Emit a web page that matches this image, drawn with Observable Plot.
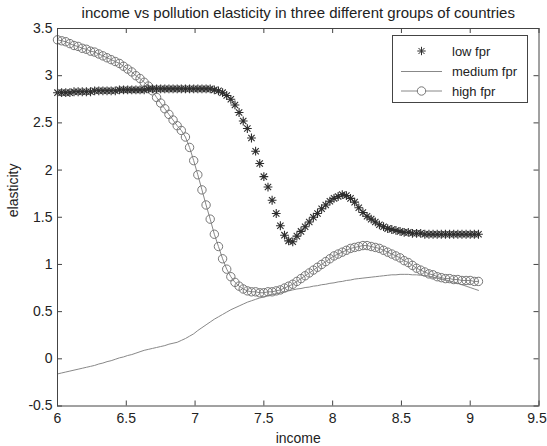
<!DOCTYPE html>
<html>
<head>
<meta charset="utf-8">
<script src="https://cdn.jsdelivr.net/npm/d3@7"></script>
<script src="https://cdn.jsdelivr.net/npm/@observablehq/plot@0.6"></script>
<style>
  html, body { margin: 0; padding: 0; background: #fff; }
  #chart { width: 547px; height: 446px; }
</style>
</head>
<body>
<div id="chart"></div>
<script>
// Income grid (log scale) shared by the three country groups
const income = [
  6.00, 6.03, 6.06, 6.09, 6.12, 6.15, 6.18, 6.21, 6.24, 6.27,
  6.30, 6.33, 6.36, 6.39, 6.42, 6.45, 6.48, 6.51, 6.54, 6.57,
  6.60, 6.63, 6.66, 6.69, 6.72, 6.75, 6.78, 6.81, 6.84, 6.87,
  6.90, 6.93, 6.96, 6.99, 7.02, 7.05, 7.08, 7.11, 7.14, 7.17,
  7.20, 7.23, 7.26, 7.29, 7.32, 7.35, 7.38, 7.41, 7.44, 7.47,
  7.50, 7.53, 7.56, 7.59, 7.62, 7.65, 7.68, 7.71, 7.74, 7.77,
  7.80, 7.83, 7.86, 7.89, 7.92, 7.95, 7.98, 8.01, 8.04, 8.07,
  8.10, 8.13, 8.16, 8.19, 8.22, 8.25, 8.28, 8.31, 8.34, 8.37,
  8.40, 8.43, 8.46, 8.49, 8.52, 8.55, 8.58, 8.61, 8.64, 8.67,
  8.70, 8.73, 8.76, 8.79, 8.82, 8.85, 8.88, 8.91, 8.94, 8.97,
  9.00, 9.03, 9.06
];

// Elasticity for low fpr countries
const lowFpr = [
  2.82, 2.82, 2.82, 2.82, 2.83, 2.83, 2.83, 2.83, 2.83, 2.84,
  2.84, 2.84, 2.84, 2.84, 2.84, 2.85, 2.85, 2.85, 2.85, 2.85,
  2.85, 2.85, 2.86, 2.86, 2.86, 2.86, 2.86, 2.86, 2.86, 2.86,
  2.86, 2.86, 2.86, 2.86, 2.86, 2.86, 2.86, 2.86, 2.85, 2.84,
  2.82, 2.79, 2.75, 2.69, 2.61, 2.52, 2.44, 2.34, 2.20, 2.07,
  1.93, 1.82, 1.68, 1.54, 1.41, 1.31, 1.25, 1.24, 1.30, 1.35,
  1.40, 1.45, 1.50, 1.54, 1.59, 1.63, 1.67, 1.70, 1.72, 1.74,
  1.73, 1.70, 1.66, 1.60, 1.55, 1.51, 1.48, 1.45, 1.42, 1.40,
  1.38, 1.37, 1.36, 1.35, 1.34, 1.34, 1.33, 1.33, 1.33, 1.32,
  1.32, 1.32, 1.32, 1.32, 1.32, 1.32, 1.32, 1.32, 1.32, 1.32,
  1.32, 1.32, 1.32
];

// Elasticity for medium fpr countries
const mediumFpr = [
  -0.16, -0.15, -0.14, -0.13, -0.12, -0.11, -0.10, -0.09, -0.08, -0.07,
  -0.055, -0.045, -0.03, -0.02, -0.005, 0.01, 0.02, 0.035, 0.045, 0.06,
  0.075, 0.09, 0.10, 0.11, 0.12, 0.13, 0.14, 0.155, 0.165, 0.175,
  0.195, 0.215, 0.24, 0.265, 0.30, 0.33, 0.36, 0.39, 0.42, 0.445,
  0.47, 0.495, 0.52, 0.54, 0.56, 0.58, 0.60, 0.615, 0.63, 0.645,
  0.655, 0.67, 0.68, 0.69, 0.70, 0.71, 0.72, 0.73, 0.74, 0.745,
  0.755, 0.76, 0.77, 0.775, 0.785, 0.79, 0.80, 0.805, 0.815, 0.82,
  0.83, 0.835, 0.845, 0.85, 0.855, 0.86, 0.865, 0.87, 0.875, 0.88,
  0.885, 0.89, 0.89, 0.895, 0.895, 0.895, 0.89, 0.89, 0.885, 0.88,
  0.875, 0.865, 0.855, 0.845, 0.835, 0.825, 0.81, 0.80, 0.785, 0.77,
  0.755, 0.74, 0.725
];

// Elasticity for high fpr countries
const highFpr = [
  3.38, 3.37, 3.36, 3.34, 3.32, 3.31, 3.29, 3.28, 3.26, 3.25,
  3.23, 3.21, 3.19, 3.17, 3.15, 3.13, 3.10, 3.07, 3.04, 3.00,
  2.97, 2.93, 2.89, 2.84, 2.77, 2.71, 2.65, 2.59, 2.53, 2.47,
  2.42, 2.35, 2.24, 2.10, 1.95, 1.79, 1.63, 1.48, 1.32, 1.19,
  1.06, 0.95, 0.87, 0.81, 0.77, 0.74, 0.72, 0.71, 0.71, 0.70,
  0.70, 0.71, 0.71, 0.72, 0.73, 0.75, 0.77, 0.79, 0.82, 0.85,
  0.88, 0.91, 0.94, 0.97, 1.00, 1.03, 1.06, 1.09, 1.11, 1.13,
  1.15, 1.17, 1.18, 1.19, 1.20, 1.20, 1.19, 1.18, 1.17, 1.15,
  1.13, 1.11, 1.09, 1.07, 1.04, 1.02, 0.99, 0.96, 0.94, 0.92,
  0.90, 0.89, 0.87, 0.86, 0.85, 0.85, 0.84, 0.84, 0.83, 0.83,
  0.83, 0.82, 0.82
];

const xTicks = [6, 6.5, 7, 7.5, 8, 8.5, 9, 9.5];
const yTicks = [-0.5, 0, 0.5, 1, 1.5, 2, 2.5, 3, 3.5];
const seriesNames = ["low fpr", "medium fpr", "high fpr"];
const titleText = "income vs pollution elasticity in three different groups of countries";
const xLabel = "income";
const yLabel = "elasticity";

const rows = (ys) => income.map((x, i) => ({income: x, elasticity: ys[i]}));
const low = rows(lowFpr);
const medium = rows(mediumFpr);
const high = rows(highFpr);

// '*' marker: a plus overlaid with a diagonal cross
const starSymbol = {
  draw(ctx, size) {
    const r = Math.sqrt(size / Math.PI);
    const d = r * 0.72;
    ctx.moveTo(-r, 0); ctx.lineTo(r, 0);
    ctx.moveTo(0, -r); ctx.lineTo(0, r);
    ctx.moveTo(-d, -d); ctx.lineTo(d, d);
    ctx.moveTo(-d, d); ctx.lineTo(d, -d);
  }
};

const W = 547, H = 446;
const mL = 57, mR = 8.5, mT = 28, mB = 40.5;
const innerW = W - mL - mR, innerH = H - mT - mB;
const tickLen = 5;
const axisColor = "#444";
const textColor = "#222";
const starColor = "#2e2e2e";
const circleColor = "#777";
const lineColor = "#888";
const fmt = (d) => String(d);
const lastX = xTicks[xTicks.length - 1];

const chart = Plot.plot({
  width: W,
  height: H,
  marginLeft: mL,
  marginRight: mR,
  marginTop: mT,
  marginBottom: mB,
  style: {
    fontFamily: "'Liberation Sans', Arial, Helvetica, sans-serif",
    fontSize: "14px",
    color: textColor,
    background: "#fff"
  },
  x: {domain: [6, 9.5]},
  y: {domain: [-0.5, 3.5]},
  marks: [
    // inward ticks on all four sides
    Plot.tickX(xTicks, {x: (d) => d, stroke: axisColor, insetTop: innerH - tickLen}),
    Plot.tickX(xTicks, {x: (d) => d, stroke: axisColor, insetBottom: innerH - tickLen}),
    Plot.tickY(yTicks, {y: (d) => d, stroke: axisColor, insetRight: innerW - tickLen}),
    Plot.tickY(yTicks, {y: (d) => d, stroke: axisColor, insetLeft: innerW - tickLen}),
    Plot.axisX({ticks: xTicks.filter((t) => t !== lastX), tickSize: 0, tickPadding: 7, tickFormat: fmt, label: null, fontSize: 14}),
    // last label nudged left so it stays inside the page edge
    Plot.axisX({ticks: [lastX], tickSize: 0, tickPadding: 7, tickFormat: fmt, label: null, fontSize: 14, dx: -2}),
    Plot.axisY({ticks: yTicks, tickSize: 0, tickPadding: 5, tickFormat: fmt, label: null, fontSize: 14}),

    // medium fpr: plain line
    Plot.line(medium, {x: "income", y: "elasticity", stroke: lineColor, strokeWidth: 1}),
    // high fpr: line with open circles
    Plot.line(high, {x: "income", y: "elasticity", stroke: lineColor, strokeWidth: 1}),
    Plot.dot(high, {x: "income", y: "elasticity", r: 4.2, fill: "none", stroke: circleColor, strokeWidth: 1}),
    // low fpr: stars only
    Plot.dot(low, {x: "income", y: "elasticity", symbol: starSymbol, r: 4.4, fill: "none", stroke: starColor, strokeWidth: 1.1}),

    Plot.frame({stroke: axisColor}),

    Plot.text([titleText], {frameAnchor: "top", lineAnchor: "middle", dy: -15, fontSize: 15, fill: textColor}),
    Plot.text([xLabel], {frameAnchor: "bottom", lineAnchor: "middle", dy: 33, fontSize: 14, fill: textColor}),
    Plot.text([yLabel], {frameAnchor: "left", dx: -44, rotate: -90, fontSize: 14, fill: textColor})
  ]
});

// Legend box in the upper-right corner of the axes
const svg = d3.select(chart);
const lg = svg.append("g")
  .attr("font-size", 13)
  .attr("fill", textColor)
  .attr("text-anchor", "start");
lg.append("rect")
  .attr("x", 392.5).attr("y", 35.5).attr("width", 135).attr("height", 67)
  .attr("fill", "#fff").attr("stroke", axisColor);
const rowY = [51, 71.5, 91];
const sx0 = 401, sx1 = 442, sxm = 421.5, tx = 452;
// low fpr sample: star marker
lg.append("path")
  .attr("transform", `translate(${sxm},${rowY[0]})`)
  .attr("d", d3.symbol(starSymbol, Math.PI * 4.2 * 4.2)())
  .attr("fill", "none").attr("stroke", starColor);
// medium fpr sample: line
lg.append("line").attr("x1", sx0).attr("x2", sx1).attr("y1", rowY[1]).attr("y2", rowY[1])
  .attr("stroke", lineColor);
// high fpr sample: line with circle
lg.append("line").attr("x1", sx0).attr("x2", sx1).attr("y1", rowY[2]).attr("y2", rowY[2])
  .attr("stroke", lineColor);
lg.append("circle").attr("cx", sxm).attr("cy", rowY[2]).attr("r", 4.2)
  .attr("fill", "#fff").attr("stroke", circleColor);
seriesNames.forEach((name, i) => {
  lg.append("text")
    .attr("x", tx).attr("y", rowY[i]).attr("dy", "0.35em")
    .attr("text-anchor", "start")
    .text(name);
});

document.getElementById("chart").appendChild(chart);
</script>
</body>
</html>
